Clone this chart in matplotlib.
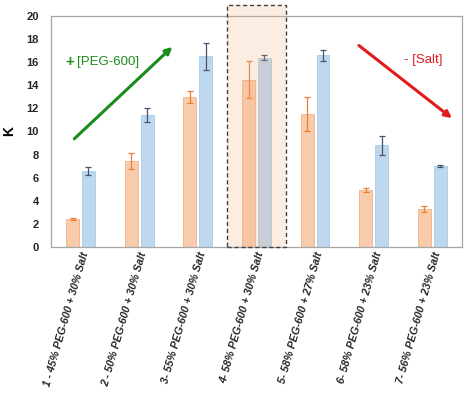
import matplotlib.pyplot as plt
from matplotlib.patches import Rectangle

plt.rcParams['font.family'] = ['Liberation Sans', 'DejaVu Sans']

# systems and the two K series (orange / blue), with error bars
systems = ["1 - 45% PEG-600 + 30% Salt", "2 - 50% PEG-600 + 30% Salt",
           "3- 55% PEG-600 + 30% Salt", "4- 58% PEG-600 + 30% Salt",
           "5- 58% PEG-600 + 27% Salt", "6- 58% PEG-600 + 23% Salt",
           "7- 56% PEG-600 + 23% Salt"]
k_orange = [2.4, 7.45, 13.0, 14.5, 11.5, 4.93, 3.3]
err_orange = [0.1, 0.7, 0.55, 1.6, 1.5, 0.18, 0.25]
k_blue = [6.6, 11.4, 16.5, 16.4, 16.6, 8.8, 7.0]
err_blue = [0.35, 0.6, 1.15, 0.22, 0.45, 0.84, 0.05]

fig = plt.figure(figsize=(4.65, 3.93), dpi=100)
ax = fig.add_axes([0.11, 0.372, 0.883, 0.587])

x = list(range(len(systems)))
w = 0.22
xo = [i - 0.135 for i in x]
xb = [i + 0.135 for i in x]

ax.bar(xo, k_orange, w, color='#f8cbad', edgecolor='#f4b183', linewidth=0.6, zorder=2)
ax.bar(xb, k_blue, w, color='#bdd7ee', edgecolor='#a9cbe9', linewidth=0.6, zorder=2)
ax.errorbar(xo, k_orange, yerr=err_orange, fmt='none', ecolor='#ed7d31',
            elinewidth=0.9, capsize=2, capthick=0.9, zorder=3)
ax.errorbar(xb, k_blue, yerr=err_blue, fmt='none', ecolor='#44546a',
            elinewidth=0.9, capsize=2, capthick=0.9, zorder=3)

# highlighted system 4
ax.add_patch(Rectangle((2.5, 0), 1.0, 21.0, facecolor='#f4b183', alpha=0.22,
                       edgecolor='none', clip_on=False, zorder=4))
ax.add_patch(Rectangle((2.5, 0), 1.0, 21.0, facecolor='none', edgecolor='#404040',
                       linestyle=(0, (3, 2)), linewidth=1.0, clip_on=False, zorder=5))

# trend arrows
ax.annotate('', xy=(1.6, 17.5), xytext=(-0.14, 9.2),
            arrowprops=dict(arrowstyle='-|>', color='#1a8c1a', lw=2.2, mutation_scale=10))
ax.text(-0.25, 16.0, '+', color='#1a8c1a', fontsize=11, fontweight='bold', va='center')
ax.text(-0.06, 16.0, '[PEG-600]', color='#1a8c1a', fontsize=9.5, va='center')
ax.annotate('', xy=(6.37, 11.0), xytext=(4.71, 17.6),
            arrowprops=dict(arrowstyle='-|>', color='#e31a1c', lw=2.2, mutation_scale=10))
ax.text(5.52, 16.2, '- [Salt]', color='#e31a1c', fontsize=9.5, va='center')

ax.set_xlim(-0.5, 6.5)
ax.set_ylim(0, 20)
ax.set_yticks(range(0, 21, 2))
ax.set_xticks(x)
ax.set_xticklabels(systems, rotation=74, ha='right', va='top', rotation_mode='anchor',
                   fontsize=7.7, fontweight='bold', fontstyle='italic', color='#262626')
for lbl in ax.get_yticklabels():
    lbl.set_fontweight('bold')
    lbl.set_fontsize(8)
    lbl.set_color('#262626')
ax.tick_params(length=0, pad=3)
ax.tick_params(axis='y', pad=9)
ax.set_ylabel('K', fontsize=10, fontweight='bold')
ax.yaxis.set_label_coords(-0.085, 0.5)
for s in ax.spines.values():
    s.set_color('#a6a6a6')
    s.set_linewidth(0.9)

fig.savefig('out.png', dpi=100)
